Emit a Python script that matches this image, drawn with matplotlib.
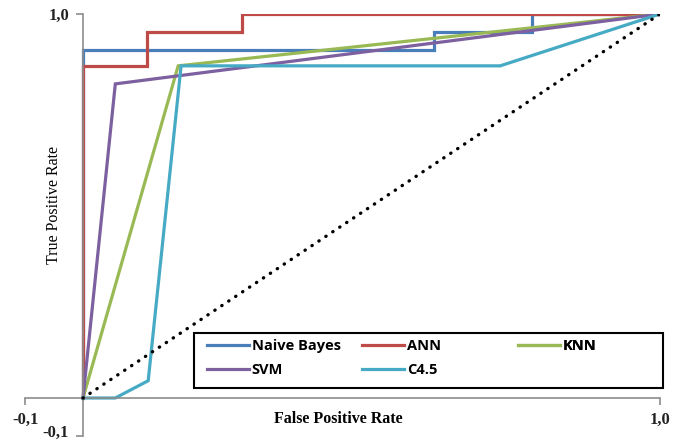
import matplotlib
matplotlib.use("Agg")
import matplotlib.pyplot as plt
from matplotlib.patches import Rectangle

# curvas ROC (FPR, TPR)
nb_fpr = [0.0, 0.0, 0.608, 0.608, 0.778, 0.778, 1.0]
nb_tpr = [0.0, 0.906, 0.906, 0.953, 0.953, 1.0, 1.0]

ann_fpr = [0.0, 0.0, 0.111, 0.111, 0.276, 0.276, 1.0]
ann_tpr = [0.0, 0.865, 0.865, 0.953, 0.953, 1.0, 1.0]

knn_fpr = [0.0, 0.165, 1.0]
knn_tpr = [0.0, 0.865, 1.0]

svm_fpr = [0.0, 0.056, 1.0]
svm_tpr = [0.0, 0.818, 1.0]

c45_fpr = [0.0, 0.056, 0.113, 0.170, 0.723, 1.0]
c45_tpr = [0.0, 0.0, 0.045, 0.865, 0.865, 1.0]

azar = [0.0, 1.0]

nombres = ["Naive Bayes", "ANN", "KNN", "SVM", "C4.5"]
colores = ["#4a7ebb", "#be4b48", "#98b954", "#7d60a0", "#46aac5"]
ticks = [-0.1, 1.0]
tick_labels = ["-0,1", "1,0"]

fig = plt.figure(figsize=(6.88, 4.43), dpi=100)
ax = fig.add_axes([25.3 / 688, (443 - 436.4) / 443, 634.7 / 688, 422.4 / 443])

curvas = [(nb_fpr, nb_tpr), (ann_fpr, ann_tpr), (knn_fpr, knn_tpr),
          (svm_fpr, svm_tpr), (c45_fpr, c45_tpr)]
lineas = []
for (fx, fy), nom, col in zip(curvas, nombres, colores):
    l, = ax.plot(fx, fy, color=col, lw=2.3, label=nom, solid_joinstyle="miter")
    lineas.append(l)

# diagonal punteada
ax.plot(azar, azar, color="black", lw=2.4, linestyle=(0, (0.1, 2.4)),
        dash_capstyle="round", zorder=5)

ax.set_xlim(-0.1, 1.0)
ax.set_ylim(-0.1, 1.0)

# ejes en cero, solo izquierda y abajo
for s in ["top", "right"]:
    ax.spines[s].set_visible(False)
for s in ["left", "bottom"]:
    ax.spines[s].set_position(("data", 0))
    ax.spines[s].set_color("#8c8c8c")
    ax.spines[s].set_linewidth(1.2)

ax.set_xticks(ticks)
ax.set_xticklabels(tick_labels)
ax.set_yticks(ticks)
ax.set_yticklabels(tick_labels)
ax.tick_params(colors="#8c8c8c", length=5, width=1.2, pad=5)
for t in ax.get_xticklabels() + ax.get_yticklabels():
    t.set_fontfamily("Liberation Serif")
    t.set_fontweight("bold")
    t.set_fontsize(12)
    t.set_color("#222222")
# la etiqueta -0,1 del eje y queda pegada al borde inferior
ax.get_yticklabels()[0].set_va("baseline")

ax.set_xlabel("False Positive Rate", fontfamily="Liberation Serif",
              fontweight="bold", fontsize=11.5)
ax.xaxis.set_label_coords(0.4927, 0.060)
ax.set_ylabel("True Positive Rate", fontfamily="Liberation Serif", fontsize=11.5)
ax.yaxis.set_label_coords(0.0578, 0.548)

# leyenda: marco + tres columnas
ax.add_patch(Rectangle((0.2658, 0.1146), 0.7389, 0.1302, transform=ax.transAxes,
                       fill=False, ec="black", lw=1.5, clip_on=False, zorder=6))
columnas = [[0, 3], [1, 4], [2]]
xs = [0.2860, 0.5305, 0.7763]
for cols, x0 in zip(columnas, xs):
    leg = ax.legend([lineas[i] for i in cols], [nombres[i] for i in cols],
                    loc="upper left", bbox_to_anchor=(x0, 0.2310),
                    frameon=False, borderpad=0, borderaxespad=0,
                    handlelength=2.88, handletextpad=0.2, labelspacing=0.7,
                    prop={"family": "Open Sans", "weight": "bold", "size": 10.5})
    ax.add_artist(leg)

fig.savefig("out.png", dpi=100, facecolor="white")
